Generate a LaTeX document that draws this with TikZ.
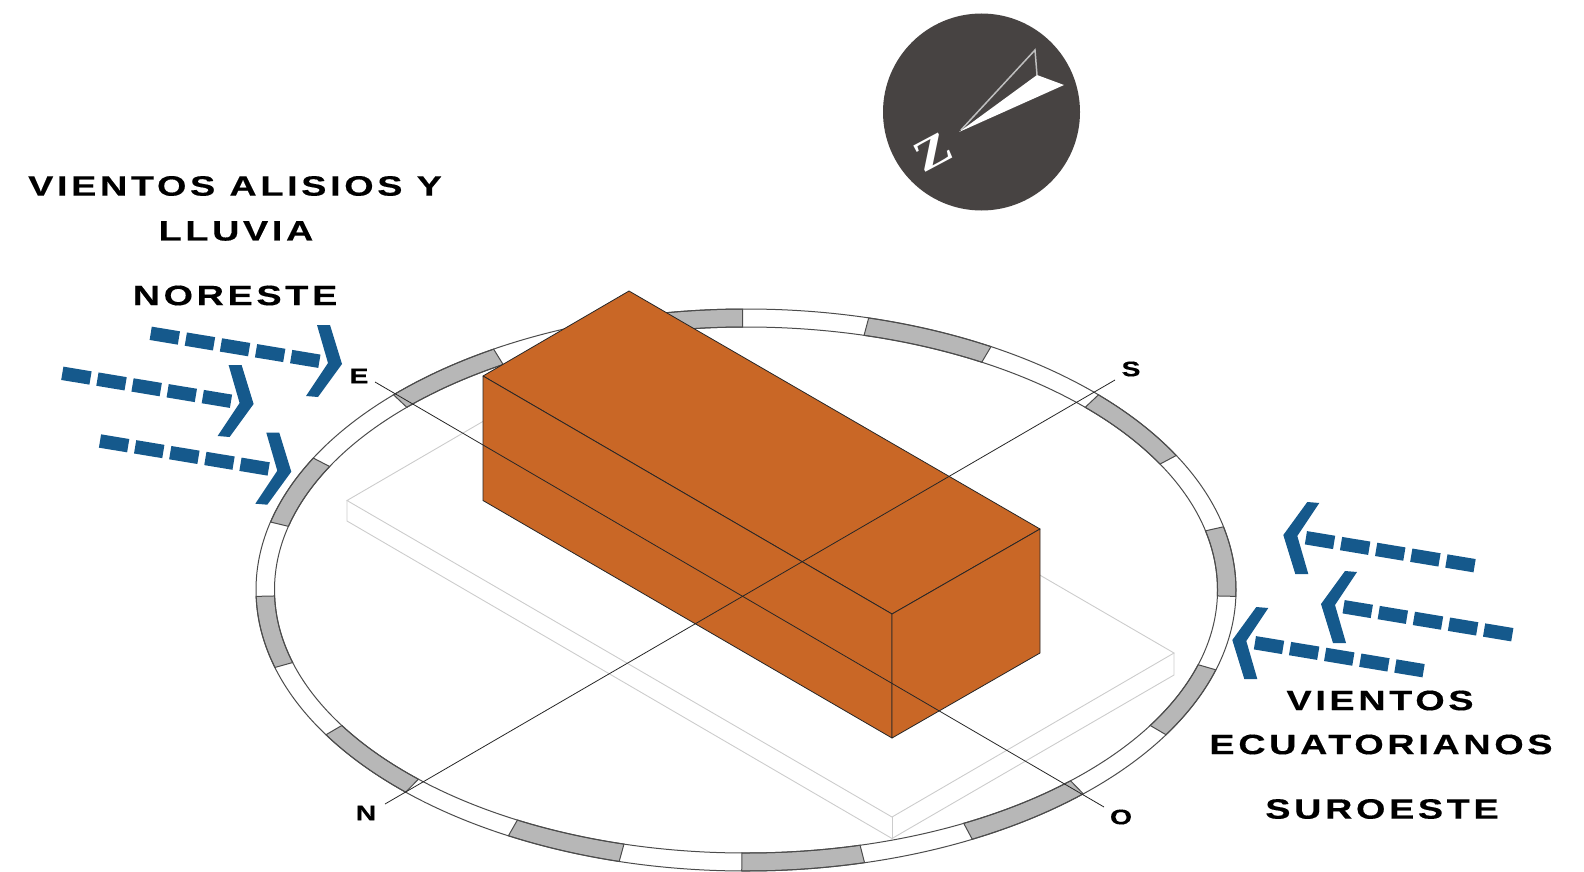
\documentclass[tikz,border=0pt]{standalone}
\usepackage{fontspec}
\newfontfamily\signfont[FakeStretch=1.35,LetterSpace=13,FakeBold=0.4]{Liberation Sans}
\newfontfamily\northfont{Liberation Serif}
\usetikzlibrary{positioning, calc}
\definecolor{brickface}{HTML}{C96726}
\definecolor{windblue}{HTML}{15598C}
\definecolor{ringgray}{HTML}{B7B7B7}
\definecolor{compassdark}{HTML}{474342}
\tikzset{
    sign/.style={font=\signfont\bfseries\fontsize{28}{30}\selectfont, inner sep=0pt, text=black},
    cardinal/.style={font=\signfont\bfseries\fontsize{21}{23}\selectfont, inner sep=0pt, text=black},
    ringline/.style={draw=black!70, line width=1pt},
    slabline/.style={draw=black!20, line width=0.9pt},
    boxface/.style={fill=brickface, draw=black!85, line width=0.8pt, line join=round},
    axisline/.style={draw=black!85, line width=0.8pt},
    windarrow/.pic={
        \draw[windblue, line width=13.5pt, dash pattern=on 28.6pt off 7pt] (0,0) -- (172,28.5);
        \fill[windblue] (166.3,-8.3) -- (179.3,-8.3) -- (191.3,30.7) -- (167.3,63.7) -- (155.3,62.7) -- (177.3,29.7) -- cycle;
    }
}
\begin{document}
\begin{tikzpicture}[x=1pt, y=-1pt]
    \useasboundingbox (0,0) rectangle (1584,872);

    % ring of the compass rose
    \foreach \a/\b in {-1.3/13, 28.6/44, 60/75.5, 90.4/105, 121/136, 152/166, 181.3/196, 211/226, 241/255, 269.5/284, 297.5/313.5, 329/343.5} {
        \fill[ringgray, ringline]
            plot[domain=\a:\b, samples=16] ({746+490*cos(\x)},{590-281*sin(\x)})
            -- plot[domain=\b:\a, samples=16] ({746+471.5*cos(\x)},{590-263*sin(\x)}) -- cycle;
    }
    \draw[ringline] (746,590) ellipse [x radius=490, y radius=281];
    \draw[ringline] (746,590) ellipse [x radius=471.5, y radius=263];

    % slab under the block
    \coordinate (slabW) at (347,500.5);
    \coordinate (slabS) at (892,817);
    \coordinate (slabE) at (1174,653);
    \coordinate (slabN) at (629,336.5);
    \draw[slabline] (slabN) -- (slabW) -- (slabS) -- (slabE) -- cycle;
    \draw[slabline] (slabW) -- ++(0,20.5) -- ($(slabS)+(0,21.5)$) -- ($(slabE)+(0,22)$) -- (slabE);
    \draw[slabline] (slabS) -- ++(0,21.5);

    % block
    \coordinate (topN) at (629,291);
    \coordinate (topW) at (483,376);
    \coordinate (topE) at (1040,529);
    \coordinate (topS) at (892,614);
    \coordinate (baseW) at (483,500.5);
    \coordinate (baseE) at (1040,653);
    \coordinate (baseS) at (892,738);
    \draw[boxface] (topN) -- (topE) -- (topS) -- (topW) -- cycle;
    \draw[boxface] (topW) -- (topS) -- (baseS) -- (baseW) -- cycle;
    \draw[boxface] (topS) -- (topE) -- (baseE) -- (baseS) -- cycle;

    % axes
    \node[cardinal] (labelE) at (359,376) {E};
    \node[cardinal] (labelS) at (1131,369) {S};
    \node[cardinal] (labelN) at (366,813) {N};
    \node[cardinal] (labelO) at (1121,817) {O};
    \coordinate (axisE) at (375,382);
    \coordinate (axisO) at (1104,807);
    \coordinate (axisN) at (385,804);
    \coordinate (axisS) at (1115,380);
    \draw[axisline] (axisE) -- (axisO);
    \draw[axisline] (axisN) -- (axisS);

    % north mark
    \node[circle, fill=compassdark, minimum size=197pt, inner sep=0pt] (compass) at (981.5,112) {};
    \draw[white!75!black, line width=1.5pt] (961,130) -- (1035,50) -- (1037,75);
    \fill[white] (959,132) -- (1037,75) -- (1064,85) -- cycle;
    \node[font=\northfont\bfseries\fontsize{44}{44}\selectfont, text=white, inner sep=0pt, rotate=28, xscale=1.25, transform shape] (northZ) at (933,152) {Z};

    % wind arrows
    \pic at (150.7,333.3) {windarrow};
    \pic at (62.3,373.3) {windarrow};
    \pic at (100,441) {windarrow};
    \pic[rotate=180] at (1474.6,565.7) {windarrow};
    \pic[rotate=180] at (1512.3,634.7) {windarrow};
    \pic[rotate=180] at (1423.6,670.7) {windarrow};

    % wind labels
    \node[sign] (alisios) at (235,186) {VIENTOS ALISIOS Y};
    \node[sign] (lluvia) at (236,231) {LLUVIA};
    \node[sign] (noreste) at (235,295.5) {NORESTE};
    \node[sign] (vientos) at (1380,700.5) {VIENTOS};
    \node[sign] (ecuatorianos) at (1381,744.5) {ECUATORIANOS};
    \node[sign] (suroeste) at (1382,809) {SUROESTE};
\end{tikzpicture}
\end{document}
